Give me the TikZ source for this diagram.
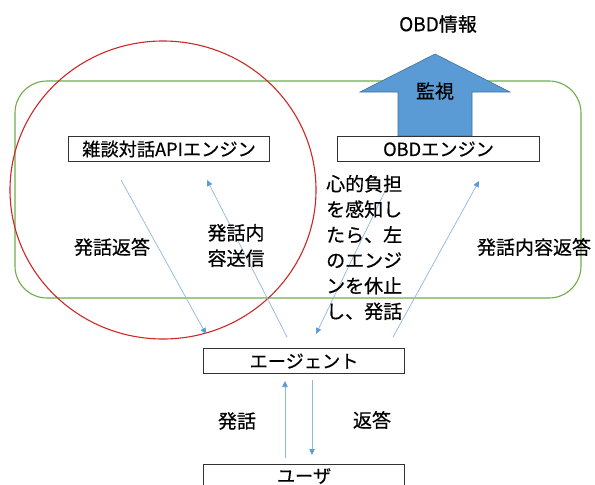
\documentclass[tikz,border=0pt]{standalone}
\usepackage{fontspec}
\setmainfont[FakeBold=0.5]{Noto Sans CJK JP}
\usetikzlibrary{arrows.meta}
\definecolor{arrowblue}{RGB}{91,155,213}
\definecolor{lineblue}{RGB}{140,184,228}
\definecolor{blockedge}{RGB}{65,113,156}
\definecolor{grn}{RGB}{112,173,71}
\definecolor{rd}{RGB}{205,40,40}
\definecolor{boxedge}{RGB}{50,50,50}
\tikzset{
  every node/.style={font=\fontsize{19}{25.5}\selectfont, inner sep=0pt, text=black},
  boxtext/.style={font=\fontsize{18.2}{22}\selectfont},
  enginebox/.style={draw=boxedge, line width=1.1pt, fill=white, minimum height=25pt, anchor=north west},
  flow/.style={draw=lineblue, line width=0.7pt, -{Triangle[width=5.5pt,length=6pt,color=arrowblue]}},
  lbl/.style={align=center},
}
\begin{document}
\begin{tikzpicture}[x=1pt,y=-1pt]
\useasboundingbox (0,0) rectangle (595,485);
\fill[white] (0,0) rectangle (595,485);
% green frame
\draw[grn, line width=1.1pt, rounded corners=32pt] (15,81) rectangle (581,298);
% red circle
\draw[rd, line width=1.1pt] (163,190) ellipse [x radius=153, y radius=149];
% block arrow
\filldraw[fill=arrowblue, draw=blockedge, line width=0.6pt]
  (398,136) -- (398,92) -- (360,92) -- (435,54) -- (510,92) -- (472,92) -- (472,136) -- cycle;
\node (watch) at (435,91) {監視};
\node (obdinfo) at (438,24) {OBD情報};
% boxes
\node[enginebox, minimum width=201pt] (chat) at (68,136) {};
\node[boxtext] at (chat.center) {雑談対話APIエンジン};
\node[enginebox, minimum width=202pt] (obd) at (337,136) {};
\node[boxtext] at (obd.center) {OBDエンジン};
\node[enginebox, minimum width=201pt] (agent) at (203,348) {};
\node[boxtext] at (agent.center) {エージェント};
\node[enginebox, minimum width=201pt] (user) at (203,464) {};
\node[boxtext] at ([yshift=1pt]user.center) {ユーザ};
% connectors
\coordinate (a1s) at (121,180); \coordinate (a1e) at (206,334);
\coordinate (a2s) at (287,337); \coordinate (a2e) at (207,180);
\coordinate (a3s) at (388,185); \coordinate (a3e) at (316,334);
\coordinate (a4s) at (393,337); \coordinate (a4e) at (479,181);
\coordinate (a5s) at (312,380); \coordinate (a5e) at (312,455);
\coordinate (a6s) at (285,458); \coordinate (a6e) at (285,381);
\draw[flow] (a1s) -- (a1e);
\draw[flow] (a2s) -- (a2e);
\draw[flow] (a3s) -- (a3e);
\draw[flow] (a4s) -- (a4e);
\draw[flow] (a5s) -- (a5e);
\draw[flow] (a6s) -- (a6e);
% labels
\node (l1) at (112,247) {発話返答};
\node[lbl] (l2) at (236,245.5) {発話内\\容送信};
\node[align=left, anchor=west] (l3) at (326,247.5) {心的負担\\を感知し\\たら、左\\のエンジ\\ンを休止\\し、発話};
\node (l4) at (534,247) {発話内容返答};
\node (l5) at (237,421) {発話};
\node (l6) at (372,420) {返答};
\end{tikzpicture}
\end{document}
